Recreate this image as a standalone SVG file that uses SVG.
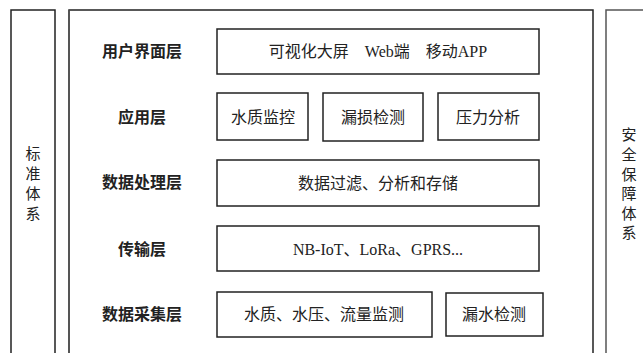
<svg xmlns="http://www.w3.org/2000/svg" width="643" height="353" viewBox="0 0 643 353">
<style>
.frame{fill:none;stroke:#222;stroke-width:1.5}
.frame2{fill:none;stroke:#555;stroke-width:1.5}
.box{fill:#fff;stroke:#222;stroke-width:1.5}
.t{font-family:"Liberation Serif","Noto Sans CJK SC",serif;font-size:16px;fill:#222;text-anchor:middle;dominant-baseline:central}
.lbl{font-family:"Liberation Serif","Noto Sans CJK SC",serif;font-size:16px;font-weight:600;fill:#222;text-anchor:middle;dominant-baseline:central}
.v{font-family:"Liberation Serif","Noto Sans CJK SC",serif;font-size:15px;fill:#222;text-anchor:middle;dominant-baseline:central}
</style>
<rect width="643" height="353" fill="#fff"/>
<g id="standard">
<path class="frame" d="M11,354 V10 H55 V354"/>
<text class="v" x="33" y="154">标</text>
<text class="v" x="33" y="174">准</text>
<text class="v" x="33" y="194">体</text>
<text class="v" x="33" y="214">系</text>
</g>
<g id="main">
<path class="frame" d="M69,354 V10 H593 V354"/>
<path class="frame2" d="M69,354 V10"/>
</g>
<g id="security">
<path class="frame2" d="M606,354 V10 H645"/>
<text class="v" x="629" y="135">安</text>
<text class="v" x="629" y="155">全</text>
<text class="v" x="629" y="175">保</text>
<text class="v" x="629" y="194">障</text>
<text class="v" x="629" y="214">体</text>
<text class="v" x="629" y="233">系</text>
</g>
<g id="ui-layer">
<text class="lbl" x="142" y="51">用户界面层</text>
<rect class="box" x="217" y="29" width="322" height="45"/>
<text class="t" x="378" y="51" xml:space="preserve">可视化大屏　Web端　移动APP</text>
</g>
<g id="app-layer">
<text class="lbl" x="142" y="117">应用层</text>
<rect class="box" x="217" y="93" width="91" height="47"/>
<text class="t" x="263" y="117">水质监控</text>
<rect class="box" x="323" y="93" width="100" height="48"/>
<text class="t" x="373" y="117">漏损检测</text>
<rect class="box" x="438" y="93" width="101" height="47"/>
<text class="t" x="488" y="117">压力分析</text>
</g>
<g id="processing-layer">
<text class="lbl" x="142" y="182">数据处理层</text>
<rect class="box" x="217" y="160" width="322" height="46"/>
<text class="t" x="378" y="183">数据过滤、分析和存储</text>
</g>
<g id="transport-layer">
<text class="lbl" x="142" y="249">传输层</text>
<rect class="box" x="217" y="226" width="322" height="45"/>
<text class="t" x="378" y="249">NB-IoT、LoRa、GPRS...</text>
</g>
<g id="collection-layer">
<text class="lbl" x="142" y="314">数据采集层</text>
<rect class="box" x="217" y="292" width="215" height="45"/>
<text class="t" x="324" y="314">水质、水压、流量监测</text>
<rect class="box" x="446" y="293" width="97" height="43"/>
<text class="t" x="494" y="314">漏水检测</text>
</g>
<g id="connectors"></g>
</svg>
